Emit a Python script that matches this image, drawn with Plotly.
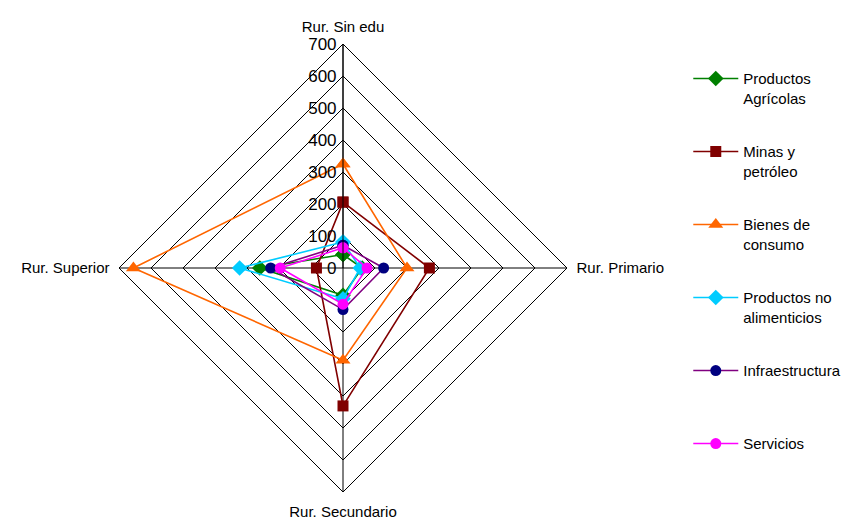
import plotly.graph_objects as go

categories = ["Rur. Sin edu", "Rur. Primario", "Rur. Secundario", "Rur. Superior"]

productos_agricolas = [42, 60, 85, 260]
minas_petroleo = [206, 270, 431, 83]
bienes_consumo = [325, 200, 288, 655]
productos_no_alim = [81, 54, 96, 323]
infraestructura = [71, 127, 130, 226]
servicios = [63, 75, 113, 196]

radial_ticks = [0, 100, 200, 300, 400, 500, 600, 700]

# Every legend label spans two lines so all entries are equally tall
series = [
    ("Productos<br>Agrícolas", productos_agricolas, "#008000", "#008000", "diamond", 12),
    ("Minas y<br>petróleo", minas_petroleo, "#800000", "#800000", "square", 11),
    ("Bienes de<br>consumo", bienes_consumo, "#FF6600", "#FF6600", "triangle-up", 13),
    ("Productos no<br>alimenticios", productos_no_alim, "#00CCFF", "#00CCFF", "diamond", 12),
    ("Infraestructura<br> ", infraestructura, "#800080", "#000080", "circle", 11),
    ("Servicios<br> ", servicios, "#FF00FF", "#FF00FF", "circle", 11),
]

fig = go.Figure()
for i, (name, vals, lcol, mcol, sym, size) in enumerate(series):
    fig.add_trace(go.Scatterpolar(
        r=vals + vals[:1],
        theta=categories + categories[:1],
        mode="lines+markers",
        name=name,
        legendgroup=f"g{i}",
        line=dict(color=lcol, width=1.6),
        marker=dict(color=mcol, symbol=sym, size=size),
    ))

fig.update_layout(
    width=855, height=519,
    margin=dict(l=0, r=0, t=0, b=0),
    paper_bgcolor="white",
    font=dict(family="Liberation Sans, Arial, sans-serif", size=15, color="black"),
    polar=dict(
        domain=dict(x=[119 / 855, 567 / 855], y=[1 - 492 / 519, 1 - 44 / 519]),
        bgcolor="white",
        gridshape="linear",
        radialaxis=dict(
            range=[0, 700],
            tickvals=radial_ticks,
            angle=90,
            tickangle=90,
            side="counterclockwise",
            showline=True,
            linecolor="black",
            linewidth=1,
            gridcolor="black",
            gridwidth=1,
            ticks="",
            tickfont=dict(size=17),
        ),
        angularaxis=dict(
            rotation=90,
            direction="clockwise",
            linecolor="black",
            linewidth=1,
            gridcolor="black",
            gridwidth=1,
            ticks="outside",
            ticklen=6,
            tickcolor="rgba(0,0,0,0)",
            tickfont=dict(size=15),
        ),
    ),
    legend=dict(
        x=0.805, y=0.88, xanchor="left", yanchor="top",
        traceorder="grouped",
        tracegroupgap=31,
        itemwidth=45,
        valign="top",
        font=dict(size=15),
        bgcolor="rgba(0,0,0,0)",
    ),
)

fig.write_html("out.html")
